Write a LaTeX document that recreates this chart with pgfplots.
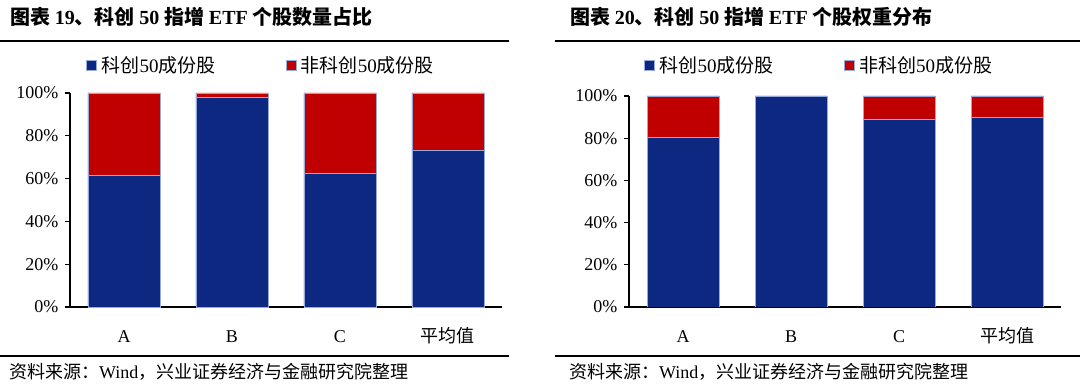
\documentclass[border=0pt]{standalone}
\usepackage{fontspec}
\setmainfont{Liberation Serif}
\newfontfamily\cjk{Noto Sans CJK SC}
\usepackage{pgfplots}
\pgfplotsset{compat=1.18}
\definecolor{myblue}{RGB}{12,40,128}
\definecolor{myred}{RGB}{192,0,0}
\definecolor{edge}{RGB}{150,170,220}
\newcommand{\fs}[1]{\fontsize{#1pt}{#1pt}\selectfont}
\pgfplotsset{myax/.style={
  scale only axis, width=432pt, height=214pt,
  ybar stacked, bar width=72pt,
  xmin=-0.5, xmax=3.5, ymin=0, ymax=100,
  axis x line*=bottom, axis y line*=left,
  axis line style={black, line width=1.6pt, -},
  xtick={0,1,2,3}, xticklabels={A,B,C,{\cjk 平均值}},
  x tick style={draw=none},
  ytick={0,20,...,100}, yticklabel={\pgfmathprintnumber{\tick}\%},
  y tick style={black, line width=1.2pt}, tick align=outside, major tick length=5pt,
  tick label style={font=\fs{18}},
  /pgf/number format/assume math mode=true,
  xticklabel style={anchor=base, yshift=-30pt},
  yticklabel style={xshift=-3pt},
  legend style={draw=none, fill=none, inner sep=0pt, legend columns=2, font=\fs{19},
    /tikz/every even column/.append style={column sep=68pt}},
  legend cell align=left,
  legend image code/.code={\fill[##1] (0pt,-5pt) rectangle (10pt,5pt); \path (13pt,0pt);},
}}
\begin{document}
\begin{tikzpicture}
\useasboundingbox (0,0) rectangle (1080pt,-390pt);
% titles
\node[anchor=base west, inner sep=0pt, font=\fs{20}\bfseries] at (10pt,-25pt) {\cjk 图表 \normalfont\bfseries 19\cjk\bfseries 、科创 \normalfont\bfseries 50 \cjk\bfseries 指增 \normalfont\bfseries ETF \cjk\bfseries 个股数量占比};
\node[anchor=base west, inner sep=0pt, font=\fs{20}\bfseries] at (570pt,-25pt) {\cjk 图表 \normalfont\bfseries 20\cjk\bfseries 、科创 \normalfont\bfseries 50 \cjk\bfseries 指增 \normalfont\bfseries ETF \cjk\bfseries 个股权重分布};
\draw[line width=2pt] (0pt,-41pt) -- (509pt,-41pt);
\draw[line width=2pt] (555pt,-41pt) -- (1080pt,-41pt);
\draw[line width=2pt] (0pt,-356pt) -- (509pt,-356pt);
\draw[line width=2pt] (555pt,-356pt) -- (1080pt,-356pt);
\node[anchor=base west, inner sep=0pt, font=\fs{18}] at (9pt,-378pt) {{\cjk 资料来源：}Wind{\cjk ，兴业证券经济与金融研究院整理}};
\node[anchor=base west, inner sep=0pt, font=\fs{18}] at (569pt,-378pt) {{\cjk 资料来源：}Wind{\cjk ，兴业证券经济与金融研究院整理}};
% left axis
\begin{axis}[myax, at={(70pt,-307pt)}, anchor=south west,
  legend style={at={(0.037,1.13)}, anchor=west}]
\addplot[fill=myblue, draw=edge, line width=0.4pt] coordinates {(0,61.4) (1,98.1) (2,62.5) (3,73.4)};
\addplot[fill=myred, draw=edge, line width=0.4pt] coordinates {(0,38.6) (1,1.9) (2,37.5) (3,26.6)};
\legend{{\cjk 科创}50{\cjk 成份股}, {\cjk 非科创}50{\cjk 成份股}}
\end{axis}
% right axis
\begin{axis}[myax, at={(629pt,-307pt)}, anchor=south west, height=211pt,
  legend style={at={(0.035,1.145)}, anchor=west}]
\addplot[fill=myblue, draw=edge, line width=0.4pt] coordinates {(0,80.5) (1,100) (2,89.2) (3,89.8)};
\addplot[fill=myred, draw=edge, line width=0.4pt] coordinates {(0,19.5) (1,0) (2,10.8) (3,10.2)};
\legend{{\cjk 科创}50{\cjk 成份股}, {\cjk 非科创}50{\cjk 成份股}}
\end{axis}
\end{tikzpicture}
\end{document}
